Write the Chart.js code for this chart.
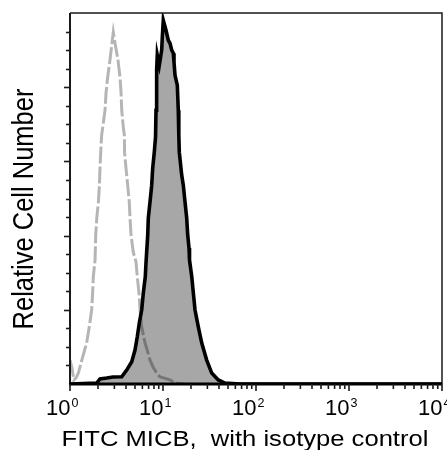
<!DOCTYPE html>
<html>
<head>
<meta charset="utf-8">
<script src="https://cdn.jsdelivr.net/npm/chart.js@4.4.1/dist/chart.umd.min.js"></script>
<style>
    html, body { margin: 0; padding: 0; background: #fff; }
    #wrap { width: 447px; height: 450px; }
</style>
</head>
<body>
<div id="wrap"><canvas id="histChart" width="447" height="450"></canvas></div>
<script>
// Flow cytometry histogram: FITC MICB vs isotype control

// Isotype control (grey dashed) - fluorescence, relative count
const isoX = [1.00, 1.05, 1.10, 1.16, 1.23, 1.34, 1.51, 1.61, 1.71, 1.75, 1.78, 1.86, 1.89, 1.94, 2.02, 2.07, 2.10, 2.14, 2.19, 2.38, 2.44, 2.54, 2.69, 2.92, 3.05, 3.28, 3.45, 3.54, 3.60, 3.74, 3.84, 3.86, 4.00, 4.17, 4.34, 4.42, 4.53, 4.79, 5.13, 5.29, 5.52, 5.66, 5.90, 6.41, 6.90, 7.25, 7.81, 8.56, 9.29, 11.9, 13.5, 17.2];
const isoY = [1.29, 0.86, 0.22, 0.32, 0.59, 1.29, 2.21, 3.07, 3.99, 4.90, 5.77, 6.68, 8.03, 8.94, 9.81, 10.72, 11.64, 12.50, 13.42, 14.76, 15.68, 16.54, 17.46, 18.97, 18.37, 17.46, 16.54, 15.68, 14.76, 13.85, 13.42, 12.50, 11.64, 10.72, 9.81, 8.94, 8.03, 7.11, 6.57, 5.77, 4.90, 3.99, 3.07, 2.21, 1.67, 1.29, 0.92, 0.59, 0.38, 0.22, 0.05, 0];

// FITC MICB (black outline, grey fill)
const micbX = [1.00, 1.94, 2.10, 2.48, 2.90, 3.60, 4.07, 4.61, 5.00, 5.29, 5.56, 5.90, 6.14, 6.45, 6.57, 6.85, 6.95, 7.25, 7.56, 7.75, 8.06, 8.31, 8.41, 8.51, 8.58, 8.68, 9.13, 9.68, 9.83, 10.07, 10.77, 11.40, 11.89, 12.41, 12.91, 13.13, 13.46, 14.25, 14.60, 14.79, 14.97, 15.89, 16.53, 17.25, 17.98, 18.44, 19.04, 19.28, 20.4, 21.2, 22.1, 24.0, 26.1, 29.5, 33.4, 39.3, 46.4, 67.3, 10000];
const micbY = [0, 0.05, 0.27, 0.32, 0.38, 0.39, 0.75, 1.20, 1.83, 2.55, 3.29, 3.99, 4.90, 5.78, 6.57, 8.03, 8.94, 9.81, 10.72, 11.64, 12.50, 13.31, 14.76, 15.84, 16.92, 17.73, 17.19, 18.00, 18.70, 19.61, 19.07, 18.53, 18.37, 18.00, 17.83, 17.35, 16.65, 16.11, 14.76, 13.42, 12.50, 11.26, 10.72, 9.81, 8.94, 8.03, 7.33, 6.68, 5.77, 4.90, 3.99, 3.07, 2.21, 1.29, 0.59, 0.22, 0.05, 0, 0];

// Axis ticks
const decadeExponents = [0, 1, 2, 3, 4];
const yMinorTicks = [1, 2, 3, 4, 5, 6, 7, 8, 9, 10, 11, 12, 13, 14, 15, 16, 17, 18, 19];
const xTitle = 'FITC MICB,  with isotype control';
const yTitle = 'Relative Cell Number';

const FONT = '"Liberation Sans", Arial, Helvetica, sans-serif';

function toPoints(xs, ys) {
    return xs.map((x, i) => ({ x: x, y: ys[i] }));
}

// Draws frame, tick marks, superscript labels and axis titles
const axisPlugin = {
    id: 'flowAxes',
    afterDraw(chart) {
        const ctx = chart.ctx;
        const area = chart.chartArea;
        const xs = chart.scales.x;
        const ys = chart.scales.y;

        ctx.save();
        ctx.strokeStyle = '#1a1a1a';
        ctx.lineCap = 'butt';

        // top and right border
        ctx.lineWidth = 1.5;
        ctx.beginPath();
        ctx.moveTo(area.left, area.top);
        ctx.lineTo(area.right, area.top);
        ctx.lineTo(area.right, area.bottom);
        ctx.stroke();

        // left axis
        ctx.lineWidth = 2;
        ctx.beginPath();
        ctx.moveTo(area.left, area.top);
        ctx.lineTo(area.left, area.bottom);
        ctx.stroke();

        // bottom axis
        ctx.strokeStyle = '#000';
        ctx.lineWidth = 3;
        ctx.beginPath();
        ctx.moveTo(area.left - 1, area.bottom);
        ctx.lineTo(area.right, area.bottom);
        ctx.stroke();

        // y ticks (outside, left)
        ctx.strokeStyle = '#1a1a1a';
        ctx.lineWidth = 1.6;
        yMinorTicks.forEach(v => {
            const y = Math.round(ys.getPixelForValue(v)) + 0.5;
            const len = v % 4 === 0 ? 6 : 4;
            ctx.beginPath();
            ctx.moveTo(area.left - len, y);
            ctx.lineTo(area.left, y);
            ctx.stroke();
        });

        // x ticks (outside, below)
        decadeExponents.forEach(d => {
            for (let m = 1; m <= 9; m++) {
                if (d === 4 && m > 1) break;
                const v = m * Math.pow(10, d);
                const x = xs.getPixelForValue(v);
                const len = m === 1 ? 7 : 5;
                ctx.beginPath();
                ctx.moveTo(x, area.bottom);
                ctx.lineTo(x, area.bottom + len);
                ctx.stroke();
            }
        });

        // decade labels with superscript
        ctx.fillStyle = '#000';
        ctx.textBaseline = 'alphabetic';
        decadeExponents.forEach(d => {
            const x = xs.getPixelForValue(Math.pow(10, d));
            ctx.font = '22px ' + FONT;
            ctx.textAlign = 'right';
            ctx.fillText('10', x + 0.5, 415);
            ctx.font = '12.5px ' + FONT;
            ctx.textAlign = 'left';
            ctx.fillText(String(d), x + 1.5, 407);
        });

        // x title (glyphs are wide in the original)
        ctx.save();
        ctx.translate(245, 446);
        ctx.scale(1.19, 1);
        ctx.font = '21.5px ' + FONT;
        ctx.textAlign = 'center';
        ctx.fillText(xTitle, 0, 0);
        ctx.restore();

        // y title
        ctx.save();
        ctx.translate(33, 209);
        ctx.rotate(-Math.PI / 2);
        ctx.scale(1, 1.12);
        ctx.font = '25.5px ' + FONT;
        ctx.textAlign = 'center';
        ctx.fillText(yTitle, 0, 0);
        ctx.restore();

        ctx.restore();
    }
};

const micbPoints = toPoints(micbX, micbY);

new Chart(document.getElementById('histChart'), {
    type: 'line',
    data: {
        datasets: [
            {
                // black outline on top
                data: micbPoints,
                borderColor: '#000',
                borderWidth: 3.6,
                pointRadius: 0,
                tension: 0,
                fill: false,
                order: 0
            },
            {
                data: toPoints(isoX, isoY),
                borderColor: 'rgba(0, 0, 0, 0.29)',
                borderWidth: 3,
                borderDash: [17, 3],
                pointRadius: 0,
                tension: 0,
                fill: false,
                order: 1
            },
            {
                // grey fill under MICB histogram
                data: micbPoints,
                borderWidth: 0,
                borderColor: 'rgba(0,0,0,0)',
                backgroundColor: '#a7a7a7',
                pointRadius: 0,
                tension: 0,
                fill: 'origin',
                order: 2
            }
        ]
    },
    options: {
        responsive: false,
        animation: false,
        layout: {
            padding: { top: 13, right: 5, left: 0, bottom: 0 }
        },
        plugins: {
            legend: { display: false },
            tooltip: { enabled: false }
        },
        scales: {
            x: {
                type: 'logarithmic',
                min: 1,
                max: 10000,
                grid: { display: false },
                border: { display: false },
                ticks: { display: false },
                afterFit: function(scale) { scale.height = 66; }
            },
            y: {
                type: 'linear',
                min: 0,
                max: 20,
                grid: { display: false },
                border: { display: false },
                ticks: { display: false },
                afterFit: function(scale) { scale.width = 70; }
            }
        }
    },
    plugins: [axisPlugin]
});
</script>
</body>
</html>
